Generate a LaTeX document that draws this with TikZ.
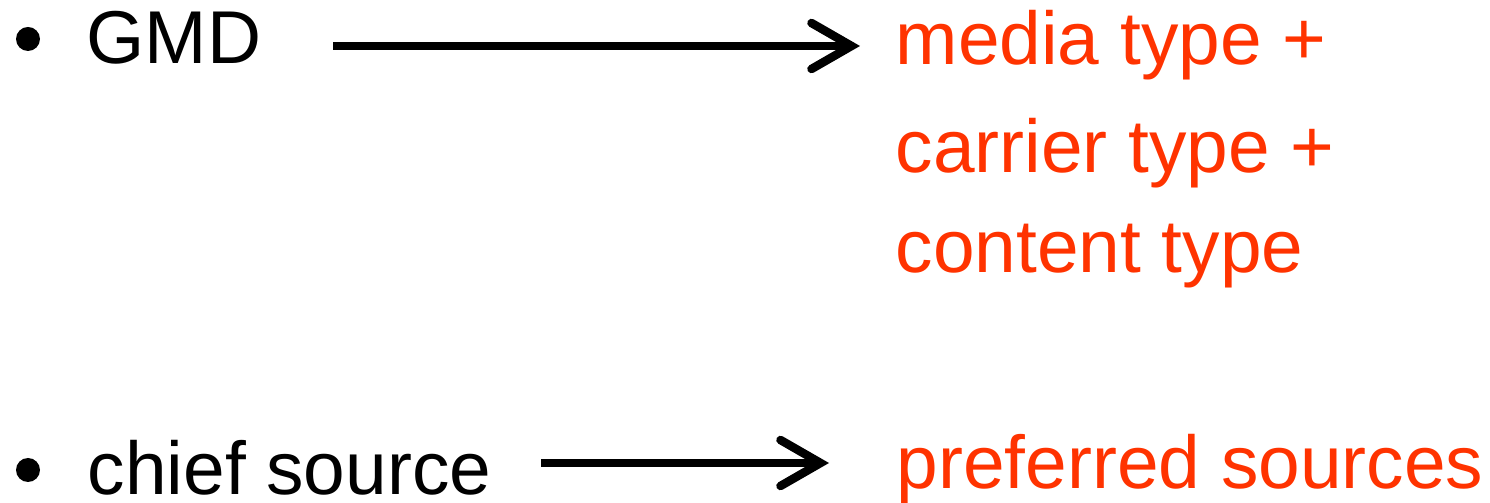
\documentclass[tikz,border=0pt]{standalone}
\usepackage{fontspec}
\setmainfont{Liberation Sans}
\usepackage{xcolor}
\usetikzlibrary{arrows.meta}
\definecolor{newred}{RGB}{255,51,0}

\begin{document}
\begin{tikzpicture}[x=1cm,y=1cm,
  every node/.style={inner sep=0pt,anchor=base west,font=\fontsize{21.3pt}{26pt}\selectfont},
  old/.style={text=black},
  new/.style={text=newred},
  arr/.style={line width=0.085cm,-{Straight Barb[length=4mm,width=4.6mm,line cap=round,line join=miter]}}]
\useasboundingbox (0,0) rectangle (14.90,-5.03);
% bullets
\foreach \y in {-0.39,-4.70}
\fill[black] (0.28,\y) circle (0.12);
% left column
\node[old] (gmd) at (0.86,-0.64) {GMD};
\node[old] (chief) at (0.87,-4.95) {chief source};
% right column
\node[new] (media) at (8.95,-0.65) {media type +};
\node[new] (carrier) at (8.95,-1.73) {carrier type +};
\node[new] (content) at (8.95,-2.73) {content type};
\node[new] (preferred) at (8.96,-4.88) {preferred sources};
% arrows
\coordinate (s1) at (3.33,-0.46);
\coordinate (e1) at (8.60,-0.46);
\coordinate (s2) at (5.41,-4.63);
\coordinate (e2) at (8.29,-4.63);
\draw[arr] (s1) -- (e1);
\draw[arr] (s2) -- (e2);
\end{tikzpicture}
\end{document}
